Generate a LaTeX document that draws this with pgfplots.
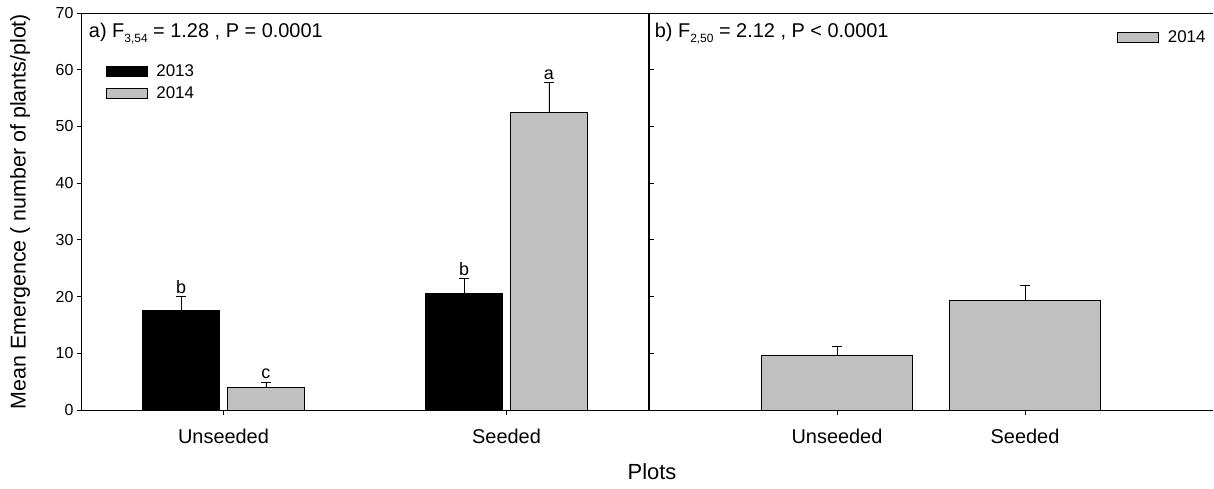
\documentclass[border=0pt]{standalone}
\usepackage{fontspec}
\setmainfont{Liberation Sans}
\usepackage{pgfplots}
\pgfplotsset{compat=1.18}
\definecolor{barg}{HTML}{C0C0C0}
\pgfplotsset{
  mylegend/.style={legend image code/.code={\draw[line width=0.8bp,##1] (0bp,-5bp) rectangle (41bp,5bp); \path (48bp,0bp);}},
  myaxis/.style={
    scale only axis, height=397bp, ymin=0, ymax=70,
    axis line style={line width=1bp},
    /pgf/number format/assume math mode=true,
    tick style={line width=0.8bp, black},
    major tick length=5bp,
    xtick={1,2}, xticklabels={Unseeded,Seeded},
    xtick pos=bottom, ytick pos=left,
    xtick align=outside,
    xticklabel style={font=\fontsize{20}{22}\selectfont, yshift=-11bp},
    yticklabel style={font=\fontsize{16}{18}\selectfont},
    legend cell align=left,
    legend style={draw=none, fill=none, font=\fontsize{17}{20}\selectfont, row sep=5bp,
      nodes={inner sep=2bp}},
    error bars/y dir=plus, error bars/y explicit,
    error bars/error mark options={rotate=90, mark size=5bp, line width=0.8bp, black},
    error bars/error bar style={line width=0.8bp, black},
  },
}
\begin{document}
\begin{tikzpicture}
\useasboundingbox (-82bp,-79bp) rectangle (1132bp,410bp);
\begin{axis}[myaxis, at={(0bp,0bp)}, anchor=south west, width=566bp,
  xmin=0.5, xmax=2.5, ytick={0,10,...,70}, ytick align=outside,
  legend style={at={(axis description cs:0.036,0.88)}, anchor=north west},
  ylabel={Mean Emergence ( number of plants/plot)},
  every axis y label/.style={at={(axis description cs:-0.1095,0.5)}, rotate=90, anchor=center, font=\fontsize{21.5}{24}\selectfont},
]
\addplot[ybar, mylegend, bar width=0.27, bar shift=0, fill=black, draw=black, line width=0.8bp]
  coordinates {(0.85,17.5) +- (0,2.5) (1.85,20.5) +- (0,2.7)};
\addlegendentry{2013}
\addplot[ybar, mylegend, bar width=0.27, bar shift=0, fill=barg, draw=black, line width=0.8bp]
  coordinates {(1.15,4.05) +- (0,0.85) (2.15,52.5) +- (0,5.2)};
\addlegendentry{2014}
\node[anchor=south, inner sep=3bp, font=\fontsize{18}{20}\selectfont] at (axis cs:0.85,20.0) {b};
\node[anchor=south, inner sep=3bp, font=\fontsize{18}{20}\selectfont] at (axis cs:1.15,4.9) {c};
\node[anchor=south, inner sep=3bp, font=\fontsize{18}{20}\selectfont] at (axis cs:1.85,23.2) {b};
\node[anchor=south, inner sep=3bp, font=\fontsize{18}{20}\selectfont] at (axis cs:2.15,57.7) {a};
\node[anchor=west, inner sep=0pt, font=\fontsize{20}{22}\selectfont] at (axis description cs:0.012,0.948)
  {a) F\raisebox{-0.45ex}{\fontsize{12}{13}\selectfont 3,54} = 1.28 , P = 0.0001};
\end{axis}
\begin{axis}[myaxis, at={(567bp,0bp)}, anchor=south west, width=564bp,
  xmin=0, xmax=3, ytick={10,20,...,60}, yticklabels={}, ytick align=inside,
  axis y line*=left, axis x line*=box,
  legend style={at={(axis description cs:0.996,0.965)}, anchor=north east},
]
\addplot[ybar, mylegend, bar width=0.8, bar shift=0, fill=barg, draw=black, line width=0.8bp]
  coordinates {(1,9.7) +- (0,1.45) (2,19.3) +- (0,2.7)};
\addlegendentry{2014}
\node[anchor=west, inner sep=0pt, font=\fontsize{20}{22}\selectfont] at (axis description cs:0.01,0.948)
  {b) F\raisebox{-0.45ex}{\fontsize{12}{13}\selectfont 2,50} = 2.12 , P < 0.0001};
\end{axis}
\node[font=\fontsize{22}{24}\selectfont] at (570bp,-62bp) {Plots};
\end{tikzpicture}
\end{document}
